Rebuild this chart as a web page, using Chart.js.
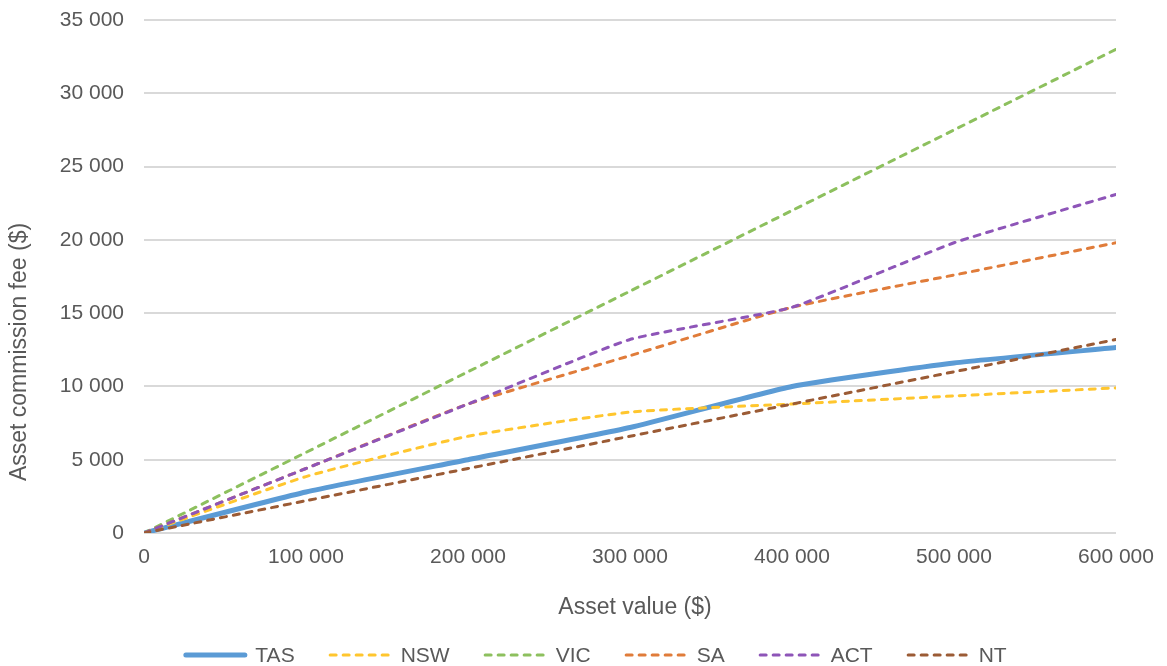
<!DOCTYPE html>
<html>
<head>
<meta charset="utf-8">
<script src="https://cdn.jsdelivr.net/npm/chart.js@4/dist/chart.umd.min.js"></script>
<style>
  html, body { margin: 0; padding: 0; background: #ffffff; }
  #wrap { width: 1167px; height: 666px; position: relative; }
</style>
</head>
<body>
<div id="wrap"><canvas id="chart" width="1167" height="666"></canvas></div>
<script>
// Asset value brackets ($) and commission fee ($) charged by each jurisdiction
const assetValues = [0, 100000, 200000, 300000, 400000, 500000, 600000];
const seriesNames = ['TAS', 'NSW', 'VIC', 'SA', 'ACT', 'NT'];
const tasFees = [0, 2800, 5000, 7200, 10000, 11600, 12650];
const nswFees = [0, 3850, 6600, 8250, 8800, 9350, 9900];
const vicFees = [0, 5500, 11000, 16500, 22000, 27500, 33000];
const saFees  = [0, 4400, 8800, 12100, 15400, 17600, 19800];
const actFees = [0, 4400, 8800, 13200, 15400, 19800, 23100];
const ntFees  = [0, 2200, 4400, 6600, 8800, 11000, 13200];
const yTicks = [0, 5000, 10000, 15000, 20000, 25000, 30000, 35000];
const xTicks = [0, 100000, 200000, 300000, 400000, 500000, 600000];
const xTitle = 'Asset value ($)';
const yTitle = 'Asset commission fee ($)';

const FONT = "'Liberation Sans', Arial, sans-serif";
const TEXT = '#595959';

function spaced(v) {
  return String(v).replace(/\B(?=(\d{3})+(?!\d))/g, ' ');
}
function points(vals) {
  return assetValues.map((x, i) => ({ x: x, y: vals[i] }));
}

const styles = [
  { color: '#5B9BD5', width: 5, dash: [] },
  { color: '#FFC62E', width: 3, dash: [6, 7] },
  { color: '#8DC05E', width: 3, dash: [6, 7] },
  { color: '#E07C3A', width: 3, dash: [6, 7] },
  { color: '#8E55B8', width: 3, dash: [6, 7] },
  { color: '#9B5B35', width: 3, dash: [6, 7] }
];
const allFees = [tasFees, nswFees, vicFees, saFees, actFees, ntFees];

const datasets = allFees.map((vals, i) => ({
  label: seriesNames[i],
  data: points(vals),
  borderColor: styles[i].color,
  backgroundColor: styles[i].color,
  borderWidth: styles[i].width,
  borderDash: styles[i].dash,
  borderCapStyle: 'round',
  borderJoinStyle: 'round',
  pointRadius: 0,
  pointHoverRadius: 0,
  tension: 0.15,
  fill: false,
  // later series are painted over earlier ones
  order: allFees.length - i
}));

// Axis titles drawn as plain canvas text
const axisTitles = {
  id: 'axisTitles',
  afterDraw(chart) {
    const ctx = chart.ctx;
    ctx.save();
    ctx.font = '23px ' + FONT;
    ctx.fillStyle = TEXT;
    ctx.textAlign = 'center';
    ctx.textBaseline = 'middle';
    ctx.fillText(xTitle, 635, 608);
    ctx.translate(20, 352);
    ctx.rotate(-Math.PI / 2);
    ctx.fillText(yTitle, 0, 0);
    ctx.restore();
  }
};

// Legend row: line sample followed by the series name
const legendRow = {
  id: 'legendRow',
  afterDraw(chart) {
    const ctx = chart.ctx;
    const sample = 64, gapText = 8, gapItem = 34;
    const cy = 655, cx = 595;
    ctx.save();
    ctx.font = '21px ' + FONT;
    const widths = chart.data.datasets.map(d => ctx.measureText(d.label).width);
    let total = 0;
    widths.forEach((w, i) => { total += sample + gapText + w + (i ? gapItem : 0); });
    let x = cx - total / 2;
    chart.data.datasets.forEach((d, i) => {
      ctx.beginPath();
      ctx.strokeStyle = d.borderColor;
      ctx.lineWidth = d.borderWidth;
      ctx.lineCap = 'round';
      ctx.setLineDash(d.borderDash || []);
      ctx.moveTo(x + d.borderWidth / 2, cy);
      ctx.lineTo(x + sample - d.borderWidth / 2, cy);
      ctx.stroke();
      ctx.setLineDash([]);
      x += sample + gapText;
      ctx.fillStyle = TEXT;
      ctx.textAlign = 'left';
      ctx.textBaseline = 'middle';
      ctx.fillText(d.label, x, cy + 1);
      x += widths[i] + gapItem;
    });
    ctx.restore();
  }
};

new Chart(document.getElementById('chart'), {
  type: 'line',
  data: { datasets: datasets },
  plugins: [axisTitles, legendRow],
  options: {
    responsive: false,
    animation: false,
    events: [],
    layout: { padding: { top: 20, right: 51, bottom: 45, left: 0 } },
    plugins: {
      legend: { display: false },
      tooltip: { enabled: false }
    },
    scales: {
      x: {
        type: 'linear',
        min: 0,
        max: 600000,
        afterBuildTicks(scale) { scale.ticks = xTicks.map(v => ({ value: v })); },
        afterFit(scale) {
          scale.height = 88;
          scale.paddingLeft = 0;
          scale.paddingRight = 0;
        },
        grid: { display: false, drawTicks: false },
        border: { display: false },
        ticks: {
          padding: 12,
          color: TEXT,
          font: { family: FONT, size: 21 },
          maxRotation: 0,
          autoSkip: false,
          callback: v => spaced(v)
        },
        title: { display: false }
      },
      y: {
        type: 'linear',
        min: 0,
        max: 35000,
        afterBuildTicks(scale) { scale.ticks = yTicks.map(v => ({ value: v })); },
        afterFit(scale) {
          scale.width = 144;
          scale.paddingTop = 0;
          scale.paddingBottom = 0;
        },
        grid: { color: '#D9D9D9', lineWidth: 2, drawTicks: false },
        border: { display: false },
        ticks: {
          padding: 20,
          color: TEXT,
          font: { family: FONT, size: 21 },
          callback: v => spaced(v)
        },
        title: { display: false }
      }
    }
  }
});
</script>
</body>
</html>
